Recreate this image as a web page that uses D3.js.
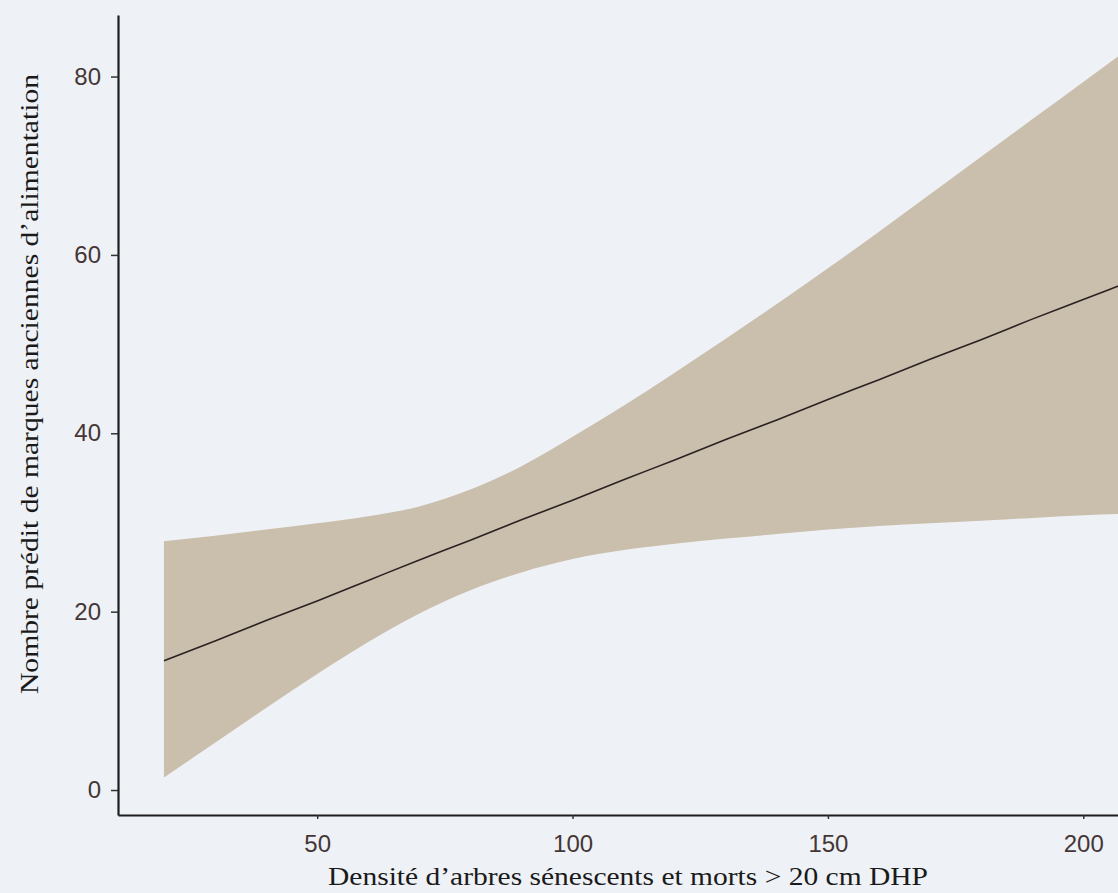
<!DOCTYPE html>
<html lang="fr">
<head>
	<meta charset="utf-8">
	<title>Nombre prédit de marques</title>
	<script src="https://d3js.org/d3.v7.min.js"></script>
	<style type="text/css">
		body{ margin: 0; background-color: #eef1f5; }
		svg{ display: block; }
	</style>
</head>
<body>
	<svg id="chart" width="1118" height="893"></svg>

	<script type="text/javascript">

	// valeurs
	var densite = [20, 30, 40, 50, 60, 70, 80, 90, 100, 110, 120, 130, 140, 150, 160, 170, 180, 190, 200, 210]
	var predit  = [14.5, 16.7, 19.0, 21.2, 23.5, 25.8, 28.0, 30.3, 32.5, 34.8, 37.0, 39.3, 41.5, 43.8, 46.0, 48.3, 50.5, 52.8, 55.0, 57.2]
	var icHaut  = [27.9, 28.5, 29.2, 29.9, 30.7, 31.8, 33.7, 36.3, 39.6, 43.1, 46.8, 50.6, 54.5, 58.5, 62.6, 66.8, 71.0, 75.2, 79.4, 83.6]
	var icBas   = [1.4, 5.3, 9.2, 13.0, 16.6, 19.8, 22.4, 24.4, 25.9, 26.9, 27.6, 28.2, 28.7, 29.2, 29.6, 29.9, 30.2, 30.5, 30.8, 31.0]

	var yTicks = [0, 20, 40, 60, 80]
	var xTicks = [50, 100, 150, 200]

	var xTitle = "Densité d\u2019arbres sénescents et morts > 20 cm DHP"
	var yTitle = "Nombre prédit de marques anciennes d\u2019alimentation"

	var data = densite.map((d, i) => ({x: d, y: predit[i], lo: icBas[i], hi: icHaut[i]}))

	// taille
	var W = 1118, H = 893
	var margin = {top: 15, left: 118, bottom: 78, right: 0}

	var svg = d3.select("#chart")

	var xScale = d3.scaleLinear()
		.domain([11, 206.8])
		.range([margin.left, W - margin.right])

	var yScale = d3.scaleLinear()
		.domain([-2.8, 86.9])
		.range([H - margin.bottom, margin.top])

	// fond
	svg.append("rect")
		.attr("width", W).attr("height", H)
		.attr("fill", "#eef1f5")

	// bande de confiance
	var area = d3.area()
		.curve(d3.curveMonotoneX)
		.x(d => xScale(d.x))
		.y0(d => yScale(d.lo))
		.y1(d => yScale(d.hi))

	svg.append("path")
		.datum(data)
		.attr("fill", "#cabeac")
		.attr("d", area)

	// courbe prédite
	var line = d3.line()
		.curve(d3.curveMonotoneX)
		.x(d => xScale(d.x))
		.y(d => yScale(d.y))

	svg.append("path")
		.datum(data)
		.attr("fill", "none")
		.attr("stroke", "#2a2222")
		.attr("stroke-width", 1.6)
		.attr("d", line)

	// axes
	svg.append("g")
		.attr("transform", "translate(" + margin.left + ",0)")
		.call(d3.axisLeft(yScale).tickValues(yTicks).tickSize(7).tickPadding(10).tickSizeOuter(0))

	svg.append("g")
		.attr("transform", "translate(0," + (H - margin.bottom) + ")")
		.call(d3.axisBottom(xScale).tickValues(xTicks).tickSize(4).tickPadding(16).tickSizeOuter(0))

	svg.selectAll(".domain")
		.attr("stroke", "#1e1e1e")
		.attr("stroke-width", 2.2)
	svg.selectAll(".tick line")
		.attr("stroke", "#333")
		.attr("stroke-width", 1.5)
	svg.selectAll(".tick text")
		.attr("fill", "#453636")
		.attr("font-family", "Liberation Sans, Arial, sans-serif")
		.attr("font-size", 24)

	// titres
	svg.append("text")
		.attr("x", 628)
		.attr("y", 885)
		.attr("text-anchor", "middle")
		.attr("font-family", "Liberation Serif, Times New Roman, serif")
		.attr("font-size", 26)
		.attr("fill", "#1a1a1a")
		.attr("textLength", 600)
		.attr("lengthAdjust", "spacingAndGlyphs")
		.text(xTitle)

	svg.append("text")
		.attr("transform", "translate(38,384) rotate(-90)")
		.attr("text-anchor", "middle")
		.attr("font-family", "Liberation Serif, Times New Roman, serif")
		.attr("font-size", 26)
		.attr("fill", "#1a1a1a")
		.attr("textLength", 620)
		.attr("lengthAdjust", "spacingAndGlyphs")
		.text(yTitle)

	</script>
</body>
</html>
